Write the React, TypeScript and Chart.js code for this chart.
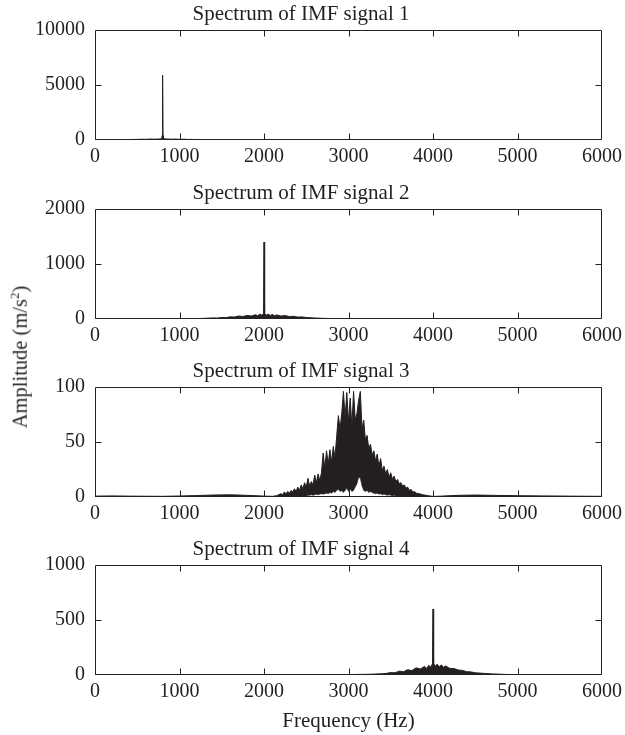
import React, { useEffect, useRef } from "react";
import { Chart, registerables } from "chart.js";

Chart.register(...registerables);

// ---------------- data ----------------
const xTickValues = [0, 1000, 2000, 3000, 4000, 5000, 6000];

const titles = [
  "Spectrum of IMF signal 1",
  "Spectrum of IMF signal 2",
  "Spectrum of IMF signal 3",
  "Spectrum of IMF signal 4",
];

const yTicks1 = [0, 5000, 10000];
const yTicks2 = [0, 1000, 2000];
const yTicks3 = [0, 50, 100];
const yTicks4 = [0, 500, 1000];

// IMF 1: sharp line at 800 Hz
const freq1 = [0, 100, 200, 300, 400, 500, 550, 600, 650, 700, 750, 790, 795, 800, 805, 810, 850, 900, 950, 1000, 1050, 1100, 1150, 1200, 1300, 1400, 1600, 2000, 3000, 4000, 5000, 6000];
const amp1 = [0, 15, 25, 30, 40, 55, 70, 60, 85, 75, 90, 110, 400, 5900, 400, 110, 90, 70, 85, 60, 70, 50, 55, 35, 25, 15, 8, 5, 3, 2, 1, 0];

// IMF 2: line at 2000 Hz with a low noise band
const freq2 = [0, 500, 1000, 1200, 1300, 1400, 1450, 1500, 1550, 1600, 1650, 1700, 1750, 1800, 1850, 1900, 1925, 1950, 1975, 1990, 1995, 2000, 2005, 2010, 2025, 2050, 2075, 2100, 2125, 2150, 2200, 2250, 2300, 2350, 2400, 2450, 2500, 2600, 2700, 2800, 2900, 3000, 4000, 5000, 6000];
const amp2 = [2, 3, 5, 8, 12, 20, 18, 28, 25, 40, 35, 55, 45, 65, 55, 78, 60, 88, 70, 92, 300, 1400, 300, 98, 70, 88, 65, 82, 60, 75, 55, 62, 45, 50, 35, 38, 28, 18, 12, 8, 5, 3, 2, 1, 0];

// IMF 3: broadband around 3000 Hz (upper and lower envelope of the dense trace)
const freq3 = [0, 200, 400, 600, 800, 1000, 1200, 1400, 1600, 1800, 2000, 2100, 2150,
  2200, 2220, 2240, 2260, 2280, 2300, 2320, 2340, 2360, 2380, 2400, 2420, 2440, 2460, 2480, 2500,
  2520, 2540, 2560, 2580, 2600, 2620, 2640, 2660, 2680, 2700, 2720, 2740, 2760, 2780, 2800,
  2820, 2840, 2860, 2880, 2900, 2920, 2940, 2960, 2980, 3000, 3020, 3040, 3060, 3080, 3100,
  3120, 3140, 3160, 3180, 3200, 3220, 3240, 3260, 3280, 3300, 3320, 3340, 3360, 3380, 3400,
  3420, 3440, 3460, 3480, 3500, 3520, 3540, 3560, 3580, 3600, 3620, 3640, 3660, 3680, 3700,
  3720, 3740, 3760, 3780, 3800, 3840, 3880, 3920, 3960, 4000, 4100, 4300, 4500, 4700, 5000, 5300, 5600, 6000];
const upper3 = [0.8, 1, 0.8, 0.7, 0.6, 0.9, 1.3, 1.8, 2, 1.5, 0.8, 0.6, 1.2,
  3, 2, 4.5, 3, 5, 3.5, 6, 4.5, 7.5, 5, 9, 6, 11, 7.5, 13, 9,
  17, 10, 14, 11, 20, 13, 21, 15, 22, 40, 26, 42, 30, 43, 32,
  46, 36, 55, 74, 62, 76, 96, 72, 95, 68, 90, 64, 96, 70, 76,
  88, 96, 62, 70, 52, 56, 44, 48, 38, 42, 33, 39, 28, 35, 24,
  28, 21, 25, 18, 22, 16, 19, 14, 16, 12, 13, 10, 11, 8, 9,
  6, 7, 4.5, 5, 3.5, 3, 2, 1.5, 1, 0.5, 0.8, 1.5, 1.8, 1.5, 1.2, 1, 0.8, 0.6];
const lower3 = [0, 0, 0, 0, 0, 0, 0, 0, 0, 0, 0, 0, 0,
  0, 0, 0, 0, 0, 0, 0.5, 0.5, 0.5, 0.5, 1, 1, 1, 1, 1, 1,
  1.5, 1.5, 2, 1.5, 2, 2.5, 2, 2.5, 3, 2.5, 3, 3.5, 3, 4, 3.5,
  5, 4, 6, 7, 5, 6, 4, 6, 8, 5, 7, 5, 6, 9, 12,
  18, 17, 10, 6, 5, 6, 4, 5, 4, 3.5, 3, 3.5, 2.5, 3, 2,
  2.5, 2, 1.5, 2, 1.5, 1, 1.5, 1, 1, 0.5, 0.5, 0.5, 0.5, 0, 0,
  0, 0, 0, 0, 0, 0, 0, 0, 0, 0, 0, 0, 0, 0, 0, 0, 0, 0];

// IMF 4: line at 4000 Hz with a noise band
const freq4 = [0, 1000, 2000, 2500, 3000, 3200, 3300, 3400, 3450, 3500, 3550, 3600, 3650, 3700, 3750, 3800, 3850, 3900, 3925, 3950, 3975, 3990, 3995, 4000, 4005, 4010, 4025, 4050, 4075, 4100, 4125, 4150, 4200, 4250, 4300, 4350, 4400, 4450, 4500, 4600, 4700, 4800, 4900, 5000, 5500, 6000];
const amp4 = [1, 1, 2, 3, 4, 6, 8, 12, 15, 22, 20, 35, 30, 48, 40, 65, 55, 78, 60, 88, 70, 98, 250, 600, 250, 108, 80, 98, 75, 92, 70, 82, 60, 58, 45, 42, 30, 28, 20, 15, 10, 7, 4, 3, 2, 1];

// ---------------- style / layout ----------------
const FONT = "'Liberation Serif', 'Times New Roman', serif";
const INK = "#231f20";
const FRAME_TOPS = [30, 209, 387, 565];
const FRAME_H = 110;
const TOP_SPACE = 30;
const BOTTOM_SPACE = 30;
const LAST_BOTTOM_SPACE = 60;

const pts = (xs: number[], ys: number[]) => xs.map((x, i) => ({ x, y: ys[i] }));

const lineDs = (xs: number[], ys: number[]) => ({
  data: pts(xs, ys),
  borderColor: INK,
  backgroundColor: INK,
  borderWidth: 1,
  fill: "origin",
  pointRadius: 0,
});

const panels = [
  { title: titles[0], yTicks: yTicks1, datasets: [lineDs(freq1, amp1)] },
  { title: titles[1], yTicks: yTicks2, datasets: [lineDs(freq2, amp2)] },
  {
    title: titles[2],
    yTicks: yTicks3,
    datasets: [
      { data: pts(freq3, upper3), borderColor: INK, backgroundColor: INK, borderWidth: 1, fill: "+1", pointRadius: 0 },
      { data: pts(freq3, lower3), borderColor: INK, backgroundColor: INK, borderWidth: 0.6, fill: false, pointRadius: 0 },
    ],
  },
  { title: titles[3], yTicks: yTicks4, datasets: [lineDs(freq4, amp4)] },
];

const framePlugin = {
  id: "matlabFrame",
  afterDatasetsDraw(chart: any) {
    const { ctx, chartArea: a, scales } = chart;
    const l = Math.round(a.left) + 0.5;
    const r = Math.round(a.right) - 0.5;
    const t = Math.round(a.top) + 0.5;
    const b = Math.round(a.bottom) - 0.5;
    const TL = 6;
    ctx.save();
    ctx.strokeStyle = INK;
    ctx.lineWidth = 1;
    ctx.beginPath();
    ctx.rect(l, t, r - l, b - t);
    scales.x.ticks.forEach((tk: any) => {
      if (tk.value <= scales.x.min || tk.value >= scales.x.max) return;
      const px = Math.round(scales.x.getPixelForValue(tk.value)) + 0.5;
      ctx.moveTo(px, b);
      ctx.lineTo(px, b - TL);
      ctx.moveTo(px, t);
      ctx.lineTo(px, t + TL);
    });
    scales.y.ticks.forEach((tk: any) => {
      if (tk.value <= scales.y.min || tk.value >= scales.y.max) return;
      const py = Math.round(scales.y.getPixelForValue(tk.value)) + 0.5;
      ctx.moveTo(l, py);
      ctx.lineTo(l + TL, py);
      ctx.moveTo(r, py);
      ctx.lineTo(r - TL, py);
    });
    ctx.stroke();
    ctx.restore();
  },
};

function Panel({ idx }: { idx: number }) {
  const ref = useRef<HTMLCanvasElement>(null);
  const last = idx === panels.length - 1;
  const h = TOP_SPACE + FRAME_H + (last ? LAST_BOTTOM_SPACE : BOTTOM_SPACE);
  useEffect(() => {
    const p = panels[idx];
    const font = { family: FONT, size: 20, weight: "normal" as const };
    const bigFont = { family: FONT, size: 21, weight: "normal" as const };
    const yMax = p.yTicks[p.yTicks.length - 1];
    const chart = new Chart(ref.current as HTMLCanvasElement, {
      type: "line",
      data: { datasets: p.datasets as any },
      options: {
        animation: false,
        responsive: false,
        devicePixelRatio: 1,
        layout: { padding: { left: 0, right: 23, top: 0, bottom: 0 } },
        plugins: {
          legend: { display: false },
          tooltip: { enabled: false },
          title: {
            display: true,
            text: p.title,
            color: INK,
            font: bigFont,
            padding: { top: 2, bottom: 2.8 },
          },
        },
        elements: { line: { tension: 0 }, point: { radius: 0 } },
        scales: {
          x: {
            type: "linear",
            min: 0,
            max: 6000,
            grid: { display: false, drawTicks: false },
            border: { display: false },
            ticks: {
              padding: 4.5,
              color: INK,
              font,
              maxRotation: 0,
              autoSkip: false,
              callback: (v: any) => String(v),
            },
            afterBuildTicks: (s: any) => {
              s.ticks = xTickValues.map((v) => ({ value: v }));
            },
            afterFit: (s: any) => {
              s.height = last ? LAST_BOTTOM_SPACE : BOTTOM_SPACE;
              s.paddingLeft = 0;
              s.paddingRight = 0;
            },
            title: last
              ? { display: true, text: "Frequency (Hz)", color: INK, font: bigFont, padding: { top: 0, bottom: 1 } }
              : { display: false },
          },
          y: {
            type: "linear",
            min: 0,
            max: yMax,
            grid: { display: false, drawTicks: false },
            border: { display: false },
            ticks: {
              padding: 10,
              color: INK,
              font,
              autoSkip: false,
              callback: (v: any) => String(v),
            },
            afterBuildTicks: (s: any) => {
              s.ticks = p.yTicks.map((v) => ({ value: v }));
            },
            afterFit: (s: any) => {
              s.width = 95;
              s.paddingTop = 0;
              s.paddingBottom = 0;
            },
          },
        },
      } as any,
      plugins: [framePlugin],
    });
    return () => chart.destroy();
  }, [idx]);
  return (
    <canvas
      ref={ref}
      width={625}
      height={h}
      style={{ position: "absolute", left: 0, top: FRAME_TOPS[idx] - TOP_SPACE, width: 625, height: h }}
    />
  );
}

export default function App() {
  return (
    <div style={{ position: "absolute", left: 0, top: 0, width: 625, height: 735, background: "#fff", overflow: "hidden" }}>
      {panels.map((_, i) => (
        <Panel key={i} idx={i} />
      ))}
      <div
        style={{
          position: "absolute",
          left: 20,
          top: 357,
          transform: "translate(-50%, -50%) rotate(-90deg)",
          whiteSpace: "nowrap",
          fontFamily: FONT,
          fontSize: 20.5,
          color: INK,
          lineHeight: 1,
        }}
      >
        Amplitude (m/s<sup style={{ fontSize: 13, verticalAlign: "super", lineHeight: 0 }}>2</sup>)
      </div>
    </div>
  );
}
